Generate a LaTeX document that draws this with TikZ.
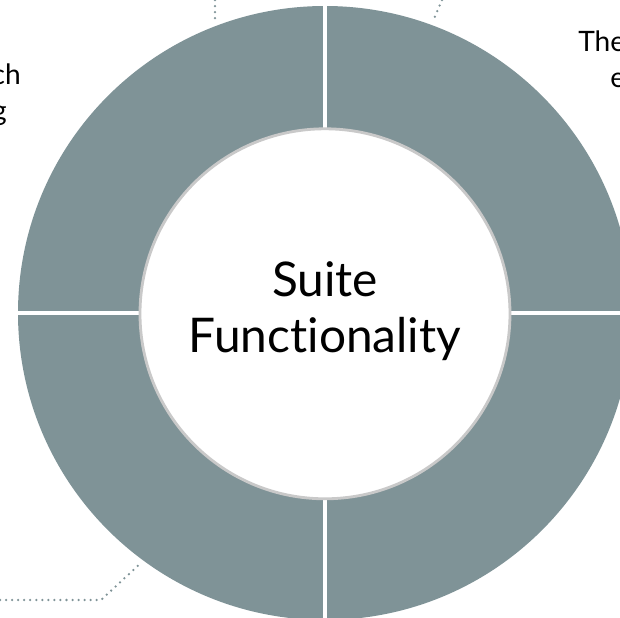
\documentclass[tikz,border=0pt]{standalone}
\usepackage{fontspec}
\setmainfont{Lato}[Ligatures={NoCommon,NoRequired}]
\usetikzlibrary{positioning}

\definecolor{ringgray}{HTML}{7F9397}
\definecolor{rimgray}{HTML}{C9C9C9}

\tikzset{
    leader/.style={ringgray, line width=1.8pt, line cap=round, dash pattern=on 0pt off 4.3pt},
    sidetext/.style={font=\fontsize{20}{24}\selectfont, inner sep=0pt},
}

\begin{document}
\begin{tikzpicture}
    \useasboundingbox (-8.125,-7.625) rectangle (7.375,7.825);

    % ring split into four quarters
    \fill[ringgray] (0,0) circle (7.675cm);
    \draw[white, line width=2.2pt] (0,7.7) -- (0,-7.7);
    \draw[white, line width=2.2pt] (-7.7,0) -- (7.7,0);

    % centre disc
    \node[circle, draw=rimgray, fill=white, line width=2pt, minimum size=9.25cm,
          inner sep=0pt] (hub) at (0,-0.02) {};
    \node[font=\fontsize{34}{40}\selectfont, align=center] (title) at (0,0.05)
        {Suite\\Functionality};

    % leader lines to the cut-off captions
    \coordinate (tlA) at (-2.75,7.825);
    \coordinate (tlB) at (-2.75,7.275);
    \draw[leader] (tlA) -- (tlB);

    \coordinate (trA) at (2.925,7.825);
    \coordinate (trB) at (2.7,7.3);
    \draw[leader] (trA) -- (trB);

    \coordinate (blA) at (-8.125,-7.175);
    \coordinate (blB) at (-5.6,-7.175);
    \coordinate (blC) at (-4.575,-6.225);
    \draw[leader] (blA) -- (blB) -- (blC);

    % caption fragments
    \node[sidetext, anchor=base east] (leftA) at (-7.6,5.7) {ch};
    \node[sidetext, anchor=base east] (leftB) at (-7.95,4.8) {g};
    \node[sidetext, anchor=base west] (rightA) at (6.325,6.525) {The};
    \node[sidetext, anchor=base west] (rightB) at (7.125,5.625) {e};
\end{tikzpicture}
\end{document}
